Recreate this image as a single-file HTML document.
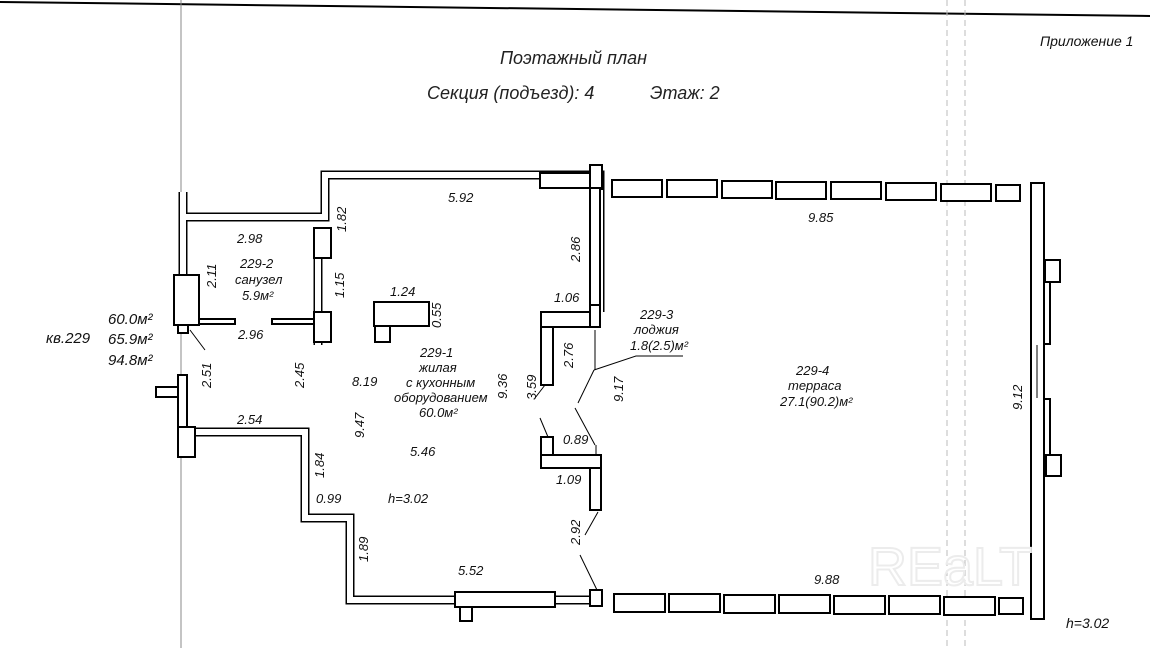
<!DOCTYPE html>
<html><head><meta charset="utf-8"><style>
html,body{margin:0;padding:0;background:#fff;width:1150px;height:648px;overflow:hidden}
svg{display:block}
text{font-family:"Liberation Sans","DejaVu Sans",sans-serif;font-style:italic;fill:#111;font-size:13px}
.t{font-size:18px;fill:#222}
.w1{fill:none;stroke:#000;stroke-width:9}
.w2{fill:none;stroke:#fff;stroke-width:6}
.b{fill:#fff;stroke:#000;stroke-width:2}
.th{stroke:#000;stroke-width:1;fill:none}
</style></head><body>
<svg width="1150" height="648" viewBox="0 0 1150 648">
<line x1="0" y1="2" x2="1150" y2="16" stroke="#000" stroke-width="2"/>
<line x1="181" y1="0" x2="181" y2="648" stroke="#888" stroke-width="1"/>
<line x1="947" y1="0" x2="947" y2="648" stroke="#bbb" stroke-width="1" stroke-dasharray="6,4"/>
<line x1="965" y1="0" x2="965" y2="648" stroke="#bbb" stroke-width="1" stroke-dasharray="6,4"/>
<text x="1040" y="46" style="font-size:14px">Приложение 1</text>
<text class="t" x="500" y="64">Поэтажный план</text>
<text class="t" x="427" y="99">Секция (подъезд): 4</text>
<text class="t" x="650" y="99">Этаж: 2</text>

<path class="w1" d="M183 192 V330 M183 217 H325 V175 H600 V312 M318 230 V345 M190 432 H305 V518 H350 V600 H600"/>
<path class="w2" d="M183 192 V330 M183 217 H325 V175 H600 V312 M318 230 V345 M190 432 H305 V518 H350 V600 H600"/>
<rect class="b" x="540" y="173" width="58" height="15"/>
<rect class="b" x="590" y="165" width="12" height="24"/>
<rect class="b" x="314" y="228" width="17" height="30"/>
<rect class="b" x="314" y="312" width="17" height="30"/>
<rect class="b" x="174" y="275" width="25" height="50"/>
<rect class="b" x="178" y="325" width="10" height="8"/>
<rect class="b" x="199" y="319" width="36" height="5"/>
<rect class="b" x="272" y="319" width="42" height="5"/>
<rect class="b" x="178" y="375" width="9" height="55"/>
<rect class="b" x="156" y="387" width="22" height="10"/>
<rect class="b" x="178" y="427" width="17" height="30"/>
<rect class="b" x="374" y="302" width="55" height="24"/>
<rect class="b" x="375" y="326" width="15" height="16"/>
<rect class="b" x="455" y="592" width="100" height="15"/>
<rect class="b" x="460" y="607" width="12" height="14"/>
<rect class="b" x="590" y="590" width="12" height="16"/>
<rect class="b" x="590" y="188" width="10" height="120"/>
<rect class="b" x="541" y="312" width="57" height="15"/>
<rect class="b" x="541" y="327" width="12" height="58"/>
<rect class="b" x="590" y="305" width="10" height="22"/>
<line class="th" x1="595" y1="330" x2="595" y2="370"/>
<rect class="b" x="541" y="437" width="12" height="18"/>
<rect class="b" x="541" y="455" width="60" height="13"/>
<rect class="b" x="590" y="468" width="11" height="42"/>
<line class="th" x1="596" y1="445" x2="596" y2="455"/>
<path class="th" d="M190 330 L205 350 M545 385 L535 398 M540 418 L548 437 M578 403 L594 370 M575 408 L595 445 M598 512 L585 535 M580 555 L597 590 M594 370 L636 356 H683"/>
<g class="b">
<rect x="612" y="180" width="50" height="17"/><rect x="667" y="180" width="50" height="17"/><rect x="722" y="181" width="50" height="17"/><rect x="776" y="182" width="50" height="17"/><rect x="831" y="182" width="50" height="17"/><rect x="886" y="183" width="50" height="17"/><rect x="941" y="184" width="50" height="17"/><rect x="996" y="185" width="24" height="16"/>
<rect x="614" y="594" width="51" height="18"/><rect x="669" y="594" width="51" height="18"/><rect x="724" y="595" width="51" height="18"/><rect x="779" y="595" width="51" height="18"/><rect x="834" y="596" width="51" height="18"/><rect x="889" y="596" width="51" height="18"/><rect x="944" y="597" width="51" height="18"/><rect x="999" y="598" width="24" height="16"/>
<rect x="1031" y="183" width="13" height="436"/>
<rect x="1045" y="260" width="15" height="22"/>
<rect x="1046" y="455" width="15" height="21"/>
<rect x="1044" y="282" width="6" height="62"/>
<rect x="1044" y="399" width="6" height="56"/>
</g>
<line class="th" x1="1037" y1="345" x2="1037" y2="398"/>
<text x="46" y="343" style="font-size:15px">кв.229</text>
<text x="108" y="324" style="font-size:15px">60.0м²</text>
<text x="108" y="344" style="font-size:15px">65.9м²</text>
<text x="108" y="365" style="font-size:15px">94.8м²</text>
<text x="448" y="202">5.92</text>
<text x="237" y="243">2.98</text>
<text x="240" y="268">229-2</text>
<text x="235" y="284">санузел</text>
<text x="242" y="300">5.9м²</text>
<text x="238" y="339">2.96</text>
<text x="390" y="296">1.24</text>
<text x="237" y="424">2.54</text>
<text x="316" y="503">0.99</text>
<text x="388" y="503">h=3.02</text>
<text x="420" y="357">229-1</text>
<text x="419" y="372">жилая</text>
<text x="406" y="387">с кухонным</text>
<text x="394" y="402">оборудованием</text>
<text x="419" y="417">60.0м²</text>
<text x="352" y="386">8.19</text>
<text x="410" y="456">5.46</text>
<text x="458" y="575">5.52</text>
<text x="554" y="302">1.06</text>
<text x="563" y="444">0.89</text>
<text x="556" y="484">1.09</text>
<text x="640" y="319">229-3</text>
<text x="634" y="334">лоджия</text>
<text x="630" y="350">1.8(2.5)м²</text>
<text x="808" y="222">9.85</text>
<text x="796" y="375">229-4</text>
<text x="788" y="390">терраса</text>
<text x="780" y="406">27.1(90.2)м²</text>
<text x="814" y="584">9.88</text>
<text x="1066" y="628" style="font-size:14px">h=3.02</text>
<g>
<text transform="translate(346,232) rotate(-90)">1.82</text>
<text transform="translate(216,288) rotate(-90)">2.11</text>
<text transform="translate(344,298) rotate(-90)">1.15</text>
<text transform="translate(441,328) rotate(-90)">0.55</text>
<text transform="translate(211,388) rotate(-90)">2.51</text>
<text transform="translate(304,388) rotate(-90)">2.45</text>
<text transform="translate(364,438) rotate(-90)">9.47</text>
<text transform="translate(324,478) rotate(-90)">1.84</text>
<text transform="translate(368,562) rotate(-90)">1.89</text>
<text transform="translate(507,399) rotate(-90)">9.36</text>
<text transform="translate(536,400) rotate(-90)">3.59</text>
<text transform="translate(580,262) rotate(-90)">2.86</text>
<text transform="translate(573,368) rotate(-90)">2.76</text>
<text transform="translate(623,402) rotate(-90)">9.17</text>
<text transform="translate(580,545) rotate(-90)">2.92</text>
<text transform="translate(1022,410) rotate(-90)">9.12</text>
</g>
<text x="868" y="585" style="font-size:54px;font-style:normal;fill:none;stroke:#ececec;stroke-width:2">REaLT</text>
</svg>
</body></html>
